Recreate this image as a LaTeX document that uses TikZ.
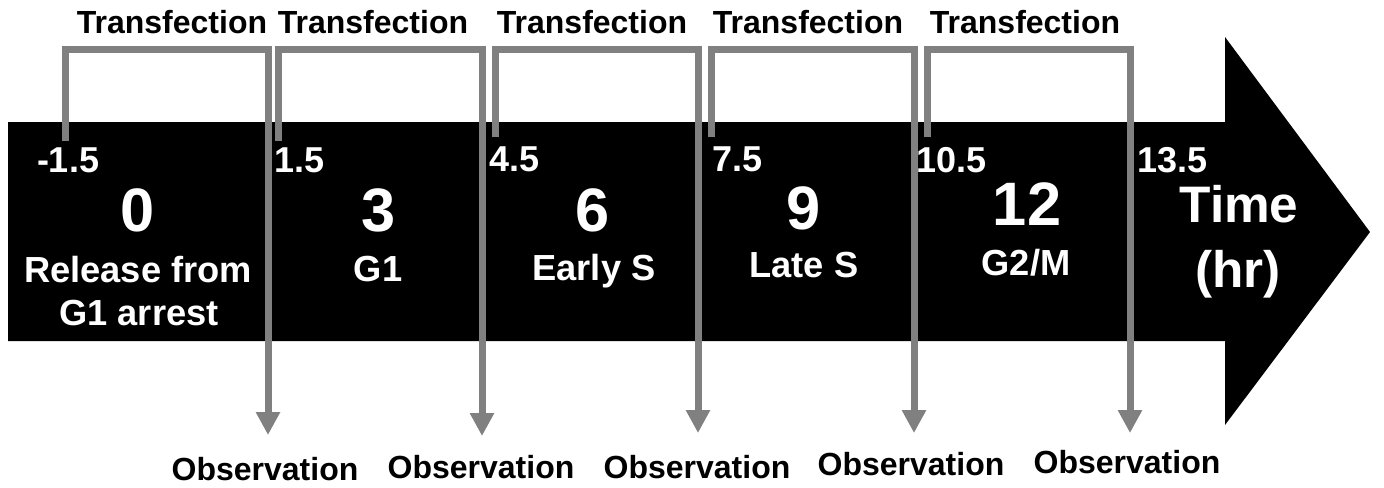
\documentclass[tikz,border=0pt]{standalone}
\usepackage{fontspec}
\setmainfont{Liberation Sans}
\usetikzlibrary{arrows.meta}
\definecolor{linegray}{HTML}{808080}
\begin{document}
\begin{tikzpicture}[x=0.75pt,y=-0.75pt,
  every node/.style={inner sep=0pt, outer sep=0pt},
  toplab/.style={anchor=base, font=\fontsize{24}{28}\selectfont\bfseries, text=black},
  obslab/.style={anchor=base, font=\fontsize{24}{28}\selectfont\bfseries, text=black},
  ticknum/.style={anchor=base west, font=\fontsize{27}{31}\selectfont\bfseries, text=white},
  bignum/.style={anchor=base, font=\fontsize{46}{52}\selectfont\bfseries, text=white},
  phase/.style={anchor=base, font=\fontsize{27.2}{31}\selectfont\bfseries, text=white},
  timelab/.style={anchor=base, font=\fontsize{38.5}{44}\selectfont\bfseries, text=white},
  bracket/.style={draw=linegray, line width=5.25pt, line join=miter,
    -{Triangle[width=17.25pt, length=17.25pt]}}
]
\useasboundingbox (0,0) rectangle (1384,487);

% timeline arrow
\fill[black] (8,122) -- (1225,122) -- (1225,37) -- (1370,232) -- (1225,425)
  -- (1225,341) -- (8,341) -- cycle;

% bracket geometry
\coordinate (top) at (0,49);
\coordinate (t1) at (65,141);   \coordinate (o1) at (268,435);
\coordinate (t2) at (278,141);  \coordinate (o2) at (482,436);
\coordinate (t3) at (495,137);  \coordinate (o3) at (698,433);
\coordinate (t4) at (711,137);  \coordinate (o4) at (914,433);
\coordinate (t5) at (927,137);  \coordinate (o5) at (1130,433);

\foreach \i in {1,...,5}{
  \draw[bracket] (t\i) -- (t\i |- top) -| (o\i);
}

% transfection labels
\node[toplab] (tr1) at (172,33) {Transfection};
\node[toplab] (tr2) at (373,33) {Transfection};
\node[toplab] (tr3) at (592,33) {Transfection};
\node[toplab] (tr4) at (808,33) {Transfection};
\node[toplab] (tr5) at (1025,33) {Transfection};

% observation labels
\node[obslab] (ob1) at (265,480) {Observation};
\node[obslab] (ob2) at (481,478) {Observation};
\node[obslab] (ob3) at (697,478) {Observation};
\node[obslab] (ob4) at (911,475) {Observation};
\node[obslab] (ob5) at (1127,473) {Observation};

% tick numbers
\node[ticknum] (n1) at (37,172) {-1.5};
\node[ticknum] (n2) at (274,172) {1.5};
\node[ticknum] (n3) at (489,171) {4.5};
\node[ticknum] (n4) at (712,171) {7.5};
\node[ticknum] (n5) at (916,172) {10.5};
\node[ticknum] (n6) at (1137,172) {13.5};

% big numbers
\node[bignum] (b0) at (138,231) {0};
\node[bignum] (b3) at (379,231) {3};
\node[bignum] (b6) at (593,231) {6};
\node[bignum] (b9) at (804,229) {9};
\node[bignum] (b12) at (1027,225) {12};

% phases
\node[phase] (p0a) at (138,282) {Release from};
\node[phase] (p0b) at (139,325) {G1 arrest};
\node[phase] (p3) at (378,281) {G1};
\node[phase] (p6) at (594,280) {Early S};
\node[phase] (p9) at (804,277) {Late S};
\node[phase] (p12) at (1026,275) {G2/M};

% time label
\node[timelab] (time) at (1239,222) {Time};
\node[timelab] (hr) at (1238,287) {(hr)};
\end{tikzpicture}
\end{document}
